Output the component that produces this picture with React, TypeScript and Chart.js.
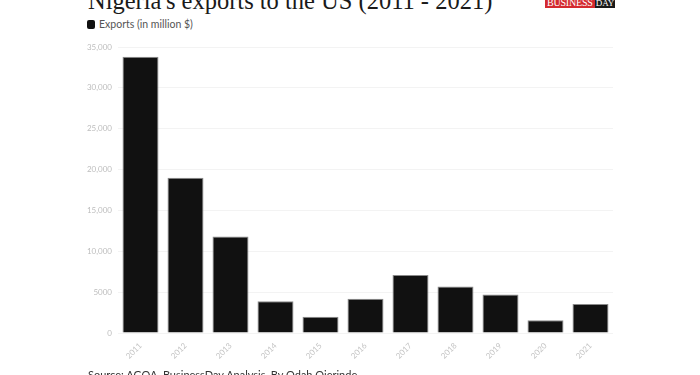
import React, { useEffect, useRef } from "react";
import { Chart, registerables } from "chart.js";

Chart.register(...registerables);

const years = ["2011", "2012", "2013", "2014", "2015", "2016", "2017", "2018", "2019", "2020", "2021"];
const exportsMillion = [33800, 19000, 11800, 3900, 2000, 4200, 7100, 5700, 4700, 1550, 3550];
const seriesLabel = "Exports (in million $)";
const titleText = "Nigeria's exports to the US (2011 - 2021)";
const sourceText = "Source: AGOA, BusinessDay Analysis, By Odah Ojerinde";

export default function App() {
  const ref = useRef<HTMLCanvasElement | null>(null);

  useEffect(() => {
    document.body.style.margin = "0";
    const canvas = ref.current;
    if (!canvas) return;
    const chart = new Chart(canvas, {
      type: "bar",
      data: {
        labels: years,
        datasets: [
          {
            label: seriesLabel,
            data: exportsMillion,
            backgroundColor: "#111111",
            borderColor: "#8a8a8a",
            borderWidth: 1,
            barPercentage: 0.8,
            categoryPercentage: 1,
          },
        ],
      },
      options: {
        animation: false,
        responsive: false,
        maintainAspectRatio: false,
        layout: { padding: { left: 0, right: 87, top: 47, bottom: 0 } },
        plugins: {
          legend: { display: false },
          tooltip: { enabled: false },
          title: { display: false },
        },
        scales: {
          x: {
            grid: { display: false },
            border: { display: false },
            ticks: {
              color: "#c4c4c4",
              font: { family: "Lato", size: 8 },
              minRotation: 45,
              maxRotation: 45,
              padding: 0,
            },
            afterFit: (s: any) => {
              s.height = 42;
            },
          },
          y: {
            min: 0,
            max: 35000,
            grid: { color: "#f3f3f3", drawTicks: false },
            border: { display: false },
            ticks: {
              stepSize: 5000,
              color: "#bdbdbd",
              font: { family: "Lato", size: 8 },
              padding: 6,
              callback: (v: any) => (Number(v) >= 10000 ? Number(v).toLocaleString("en-US") : String(v)),
            },
            afterFit: (s: any) => {
              s.width = 118;
            },
          },
        },
      },
    });
    return () => chart.destroy();
  }, []);

  return (
    <div style={{ position: "fixed", left: 0, top: 0, width: 700, height: 375, background: "#fff", overflow: "hidden" }}>
      <div
        style={{
          position: "absolute",
          left: 88,
          top: -12,
          fontFamily: "'Liberation Serif', serif",
          fontSize: 24.5,
          lineHeight: "25px",
          color: "#1a1a1a",
          whiteSpace: "nowrap",
        }}
      >
        {titleText}
      </div>
      <div style={{ position: "absolute", left: 545, top: -2, height: 10, display: "flex", fontFamily: "'Liberation Serif', serif", fontSize: 10, lineHeight: "10px", color: "#fff" }}>
        <span style={{ background: "#d42a2f", padding: "0 2px", letterSpacing: -0.2 }}>BUSINESS</span>
        <span style={{ background: "#1a1a1a", padding: "0 1px", fontSize: 9 }}>DAY</span>
      </div>
      <div style={{ position: "absolute", left: 87, top: 20, width: 8, height: 9, background: "#111", borderRadius: 2 }} />
      <div style={{ position: "absolute", left: 99, top: 17, fontFamily: "Lato, sans-serif", fontSize: 10.5, lineHeight: "14px", color: "#555", whiteSpace: "nowrap" }}>
        {seriesLabel}
      </div>
      <canvas ref={ref} width={700} height={375} style={{ position: "absolute", left: 0, top: 0, width: 700, height: 375 }} />
      <div style={{ position: "absolute", left: 88, top: 368, fontFamily: "Lato, sans-serif", fontSize: 11, lineHeight: "14px", color: "#333", whiteSpace: "nowrap" }}>
        {sourceText}
      </div>
    </div>
  );
}
